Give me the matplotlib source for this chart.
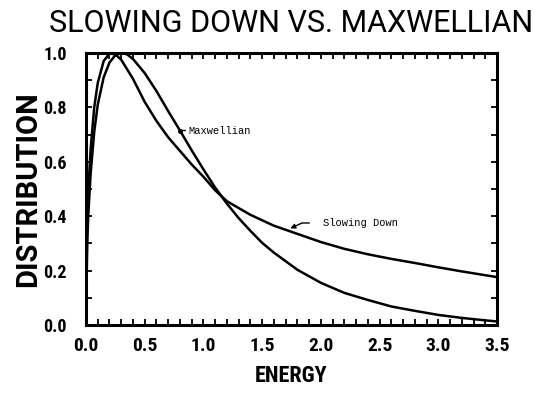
import matplotlib.pyplot as plt
from matplotlib.ticker import MultipleLocator

# energia (unidades normalizadas) y distribuciones normalizadas al maximo
energia_sd = [0.0, 0.01, 0.02, 0.04, 0.07, 0.10, 0.15, 0.20, 0.25, 0.30, 0.40,
              0.50, 0.60, 0.70, 0.80, 0.90, 1.00, 1.10, 1.20, 1.30, 1.40, 1.50,
              1.60, 1.80, 2.00, 2.20, 2.40, 2.60, 2.80, 3.00, 3.20, 3.40, 3.50]
slowing_down = [0.0, 0.38, 0.50, 0.65, 0.80, 0.89, 0.97, 0.998, 0.995, 0.975, 0.905,
                0.82, 0.75, 0.69, 0.64, 0.59, 0.545, 0.495, 0.455, 0.43, 0.405, 0.385,
                0.365, 0.335, 0.305, 0.28, 0.26, 0.243, 0.228, 0.212, 0.197, 0.183, 0.176]

energia_mx = [0.0, 0.01, 0.02, 0.04, 0.07, 0.10, 0.15, 0.20, 0.25, 0.30, 0.35, 0.40,
              0.50, 0.60, 0.70, 0.80, 0.90, 1.00, 1.10, 1.20, 1.30, 1.40, 1.50,
              1.60, 1.80, 2.00, 2.20, 2.40, 2.60, 2.80, 3.00, 3.20, 3.40, 3.50]
maxwelliana = [0.0, 0.30, 0.41, 0.56, 0.71, 0.81, 0.91, 0.965, 0.992, 1.0, 0.995, 0.978,
               0.926, 0.86, 0.786, 0.715, 0.642, 0.572, 0.505, 0.446, 0.393, 0.346, 0.302,
               0.266, 0.203, 0.155, 0.118, 0.092, 0.068, 0.052, 0.037, 0.026, 0.017, 0.013]

fuente = ['Roboto Condensed', 'Roboto', 'DejaVu Sans']
fuente_ancha = ['Roboto', 'DejaVu Sans']

fig = plt.figure(figsize=(5.43, 3.99), dpi=100)
ax = fig.add_axes([0.1584, 0.1855, 0.7569, 0.6817])

ax.plot(energia_sd, slowing_down, color='black', lw=1.8)
ax.plot(energia_mx, maxwelliana, color='black', lw=1.8)

ax.set_xlim(0, 3.5)
ax.set_ylim(0, 1.0)
ax.xaxis.set_major_locator(MultipleLocator(0.5))
ax.xaxis.set_minor_locator(MultipleLocator(0.1))
ax.yaxis.set_major_locator(MultipleLocator(0.2))
ax.yaxis.set_minor_locator(MultipleLocator(0.1))
ax.tick_params(which='both', direction='in', top=True, right=True,
               length=4, width=1.3, color='black')
ax.tick_params(axis='x', pad=9)
ax.tick_params(axis='y', pad=14)
for s in ax.spines.values():
    s.set_linewidth(2.2)

for lab in ax.get_xticklabels():
    lab.set_family(fuente)
    lab.set_fontweight('bold')
    lab.set_fontsize(14)
for lab in ax.get_yticklabels():
    lab.set_family(fuente)
    lab.set_fontweight('bold')
    lab.set_fontsize(13)

ax.set_title('SLOWING DOWN VS. MAXWELLIAN', family=fuente_ancha, fontweight='normal',
             fontsize=22, pad=15)
ax.set_xlabel('ENERGY', family=fuente, fontweight='bold', fontsize=16, labelpad=7)
ax.set_ylabel('DISTRIBUTION', family=fuente_ancha, fontweight='bold', fontsize=21, labelpad=1)

# etiquetas de cada curva
i = energia_mx.index(0.80)
ax.plot(energia_mx[i], maxwelliana[i], 'o', color='black', ms=2.5)
ax.annotate('Maxwellian', xy=(energia_mx[i], maxwelliana[i]), xytext=(0.87, maxwelliana[i]),
            va='center', family='Liberation Mono', fontsize=7.5,
            arrowprops=dict(arrowstyle='-', color='black', lw=1, shrinkA=0, shrinkB=0))
ax.annotate('Slowing Down', xy=(1.74, 0.355), xytext=(2.02, 0.375),
            va='center', family='Liberation Mono', fontsize=7.5,
            arrowprops=dict(arrowstyle='-|>', color='black', lw=1, mutation_scale=7,
                            connectionstyle='angle,angleA=0,angleB=25,rad=0',
                            shrinkA=8, shrinkB=0))

fig.savefig('out.png', dpi=100)
